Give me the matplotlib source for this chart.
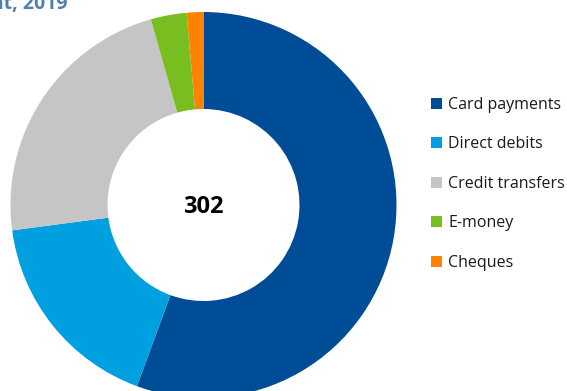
import matplotlib
matplotlib.use("Agg")
import matplotlib.pyplot as plt
from matplotlib.patches import Patch

categories = ["Card payments", "Direct debits", "Credit transfers", "E-money", "Cheques"]
shares = [55.6, 17.3, 22.7, 3.0, 1.4]
colors = ["#004C97", "#009FDF", "#C4C5C4", "#78BE20", "#FF8200"]
total_label = "302"
title = "Number of cashless payments per inhabitant, 2019"

plt.rcParams['font.family'] = ['Open Sans', 'DejaVu Sans']

W, H = 567, 391
fig = plt.figure(figsize=(W / 100, H / 100), dpi=100)
ax = fig.add_axes([0, 0, 1, 1])

cx, cy, r = 203.5, H - 205, 193
ax.pie(shares, colors=colors, startangle=90, counterclock=False,
       radius=r, center=(cx, cy),
       wedgeprops=dict(width=97, linewidth=0))
ax.set_xlim(0, W)
ax.set_ylim(0, H)
ax.set_aspect('equal')
ax.axis('off')

ax.text(cx, cy - 2, total_label, ha='center', va='center',
        fontsize=17, fontweight='bold', color='#000000')

fig.text(68 / W, 1 - 9 / H, title, ha='right', va='baseline',
         fontsize=14, fontweight='bold', color='#4F81B0')

handles = [Patch(facecolor=c, edgecolor='none') for c in colors]
leg = ax.legend(handles, categories, loc='upper left',
                bbox_to_anchor=(431 / W, 1 - 97 / H),
                bbox_transform=fig.transFigure,
                frameon=False, fontsize=11.5, labelspacing=1.47,
                handlelength=0.66, handleheight=0.66, handletextpad=0.42,
                borderpad=0, borderaxespad=0)
for t in leg.get_texts():
    t.set_color('#1a1a1a')

fig.savefig("out.png", dpi=100)
